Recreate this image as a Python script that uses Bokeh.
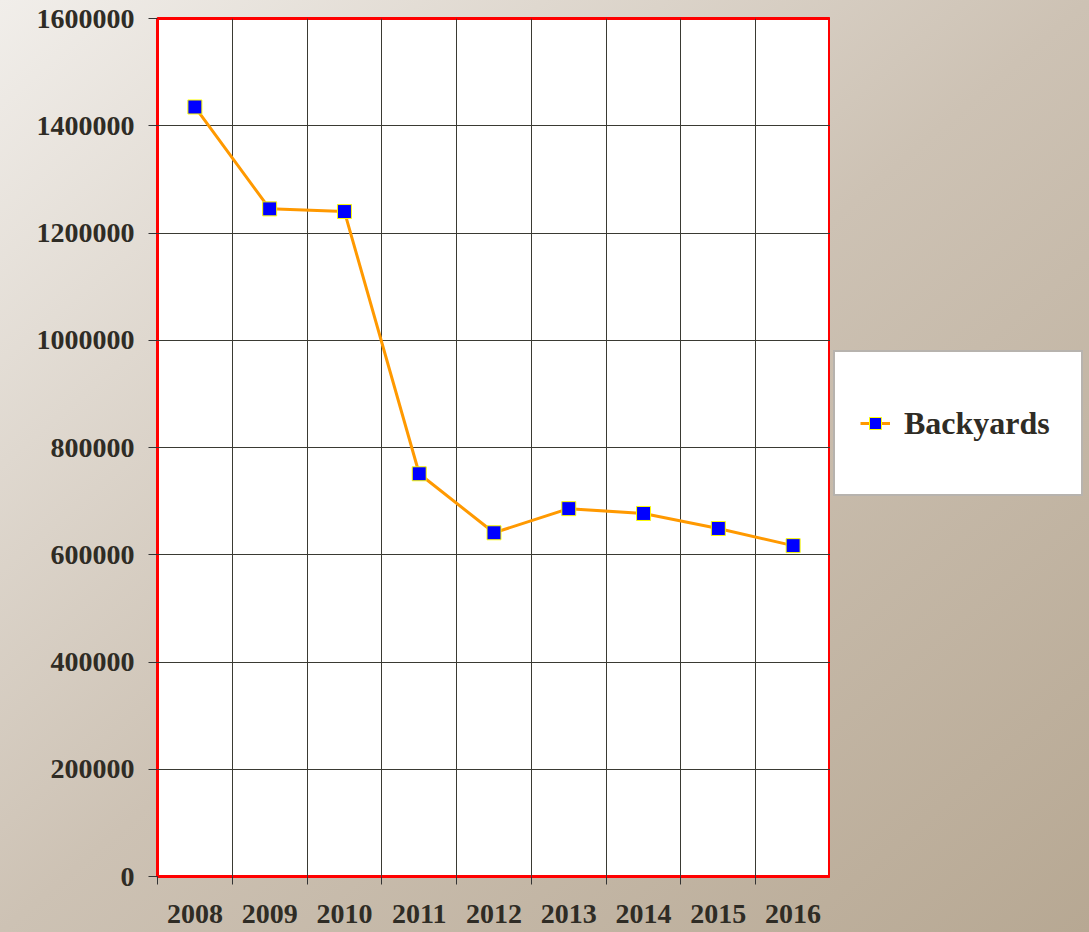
from bokeh.plotting import figure
from bokeh.layouts import row
from bokeh.models import FixedTicker, Legend, LegendItem, Range1d, ColumnDataSource
from bokeh.embed import file_html
from bokeh.resources import INLINE

# Backyard counts per year
years = ["2008", "2009", "2010", "2011", "2012", "2013", "2014", "2015", "2016"]
backyards = [1435000, 1245000, 1240000, 751000, 641000, 686000, 677000, 649000, 617000]
y_ticks = [0, 200000, 400000, 600000, 800000, 1000000, 1200000, 1400000, 1600000]

FONT = "Liberation Serif"
TEXT = "#2f2c25"
LINE_STYLE = dict(line_color="#ff9900", line_width=3)
MARKER_STYLE = dict(marker="square", size=14, fill_color="#0000ff",
                    line_color="#ffff00", line_width=1)

# each year occupies one unit slot; points sit in the middle of their slot
xs = [i + 0.5 for i in range(len(years))]
src = ColumnDataSource(dict(x=xs, y=backyards))

p = figure(
    width=830, height=932,
    output_backend="svg", toolbar_location=None,
    x_range=Range1d(0, len(years)), y_range=Range1d(0, 1600000),
    min_border_left=157, min_border_top=18, min_border_right=0, min_border_bottom=56,
)
p.border_fill_color = None
p.background_fill_color = "white"
p.outline_line_color = "#ff0000"
p.outline_line_width = 3

# x axis: labels centred in each slot, tick marks on slot boundaries
p.xaxis.ticker = FixedTicker(ticks=xs, minor_ticks=list(range(len(years) + 1)))
p.xaxis.major_label_overrides = {x: y for x, y in zip(xs, years)}
p.xaxis.major_tick_line_color = None
p.xaxis.minor_tick_line_color = "#333333"
p.xaxis.minor_tick_out = 8
p.xaxis.minor_tick_in = 0
p.xaxis.major_label_standoff = 20

p.yaxis.ticker = FixedTicker(ticks=y_ticks)
p.yaxis.formatter.use_scientific = False
p.yaxis.major_tick_line_color = "#333333"
p.yaxis.major_tick_out = 9
p.yaxis.major_tick_in = 0
p.yaxis.minor_tick_line_color = None
p.yaxis.major_label_standoff = 14

for ax in (p.xaxis, p.yaxis):
    ax.axis_line_color = None
    ax.major_label_text_font = FONT
    ax.major_label_text_font_style = "bold"
    ax.major_label_text_font_size = "28px"
    ax.major_label_text_color = TEXT

p.xgrid.ticker = FixedTicker(ticks=list(range(len(years) + 1)))
p.ygrid.ticker = FixedTicker(ticks=y_ticks)
for g in (p.xgrid, p.ygrid):
    g.grid_line_color = "#3a3a33"
    g.grid_line_width = 1

p.line("x", "y", source=src, **LINE_STYLE)
p.scatter("x", "y", source=src, **MARKER_STYLE)

# side panel holding only the legend box; its renderers share the series data,
# which falls outside this panel's unit ranges, so only the legend key shows
side = figure(
    width=259, height=932,
    output_backend="svg", toolbar_location=None,
    x_range=Range1d(0, 1), y_range=Range1d(0, 1),
    min_border=0,
)
side.axis.visible = False
side.grid.visible = False
side.outline_line_color = None
side.background_fill_color = None
side.border_fill_color = None
key_line = side.line("x", "y", source=src, **LINE_STYLE)
key_pts = side.scatter("x", "y", source=src, **MARKER_STYLE)

legend = Legend(
    items=[LegendItem(label="Backyards", renderers=[key_line, key_pts], index=0)],
    location=(3, 380),
    padding=25, margin=0, spacing=0,
    glyph_width=30, glyph_height=92, label_height=92,
    label_standoff=14, label_width=152,
    label_text_font=FONT, label_text_font_style="bold",
    label_text_font_size="32px", label_text_color=TEXT,
    border_line_color="#6f675d", border_line_width=2,
    background_fill_color="white", background_fill_alpha=1,
)
side.add_layout(legend, "center")

page = row(p, side, spacing=0, styles={
    "background": "linear-gradient(to bottom right, #f1eeea 0%, #cdc2b4 50%, #b7a893 100%)",
})

open("out.html", "w").write(file_html(page, INLINE))
